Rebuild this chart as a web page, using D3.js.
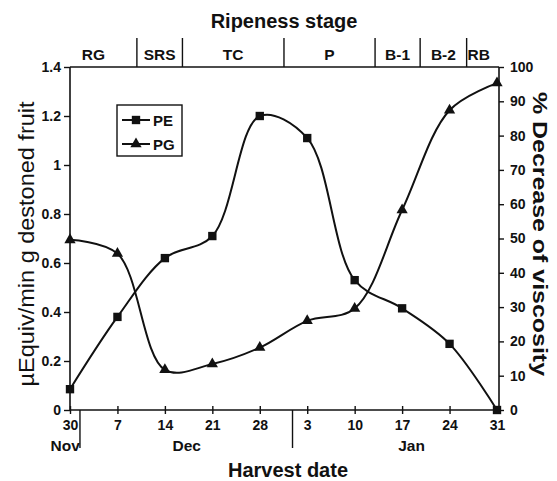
<!DOCTYPE html>
<html><head><meta charset="utf-8">
<script src="https://cdn.jsdelivr.net/npm/d3@7/dist/d3.min.js"></script>
<style>
body{margin:0;background:#fff;}
svg text{font-family:"Liberation Sans",Arial,sans-serif;fill:#111;}
</style></head>
<body><svg id="c" width="557" height="481"></svg>
<script>
// ---- data ----
const dateLabels = ["30","7","14","21","28","3","10","17","24","31"];
const monthLabels = ["Nov","Dec","Jan"];
const monthLabelPos = [-0.1, 2.46, 7.2];
const monthSeparators = [0.21, 4.69];
const peValues = [0.085, 0.38, 0.62, 0.71, 1.2, 1.11, 0.53, 0.415, 0.27, 0.0];
const pgValues = [49.6, 45.6, 11.7, 13.4, 18.2, 26.0, 29.6, 58.3, 87.4, 95.3];
const stageNames = ["RG","SRS","TC","P","B-1","B-2","RB"];
const stageBounds = [0, 1.41, 2.37, 4.51, 6.43, 7.38, 8.36, 9];
const leftTicks = [0,0.2,0.4,0.6,0.8,1,1.2,1.4];
const rightTicks = [0,10,20,30,40,50,60,70,80,90,100];

const svg = d3.select("#c");
const L = 70, R = 499, T = 67, B = 410;
const x = d3.scaleLinear().domain([0,9]).range([L, R - 2]);
const yL = d3.scaleLinear().domain([0,1.4]).range([B, T]);
const yR = d3.scaleLinear().domain([0,100]).range([B, T]);

const g = svg.append("g");
g.append("line").attr("x1",L).attr("x2",L).attr("y1",T).attr("y2",B).attr("stroke","#111").attr("stroke-width",1.6);
g.append("line").attr("x1",R).attr("x2",R).attr("y1",T).attr("y2",B).attr("stroke","#111").attr("stroke-width",1.6);
g.append("line").attr("x1",L).attr("x2",R).attr("y1",B).attr("y2",B).attr("stroke","#111").attr("stroke-width",1.6);
g.append("line").attr("x1",L).attr("x2",R).attr("y1",T).attr("y2",T).attr("stroke","#111").attr("stroke-width",1.6);

// left axis
const la = svg.append("g").attr("transform",`translate(${L},0)`)
  .call(d3.axisLeft(yL).tickValues(leftTicks).tickSize(6).tickPadding(3).tickFormat(d=>d3.format("")(+d.toFixed(1))));
la.select(".domain").remove();
la.selectAll("line").attr("stroke","#111").attr("stroke-width",1.4);
la.selectAll("text").attr("font-size",14).attr("font-weight","bold").attr("fill","#111");

// right axis
const ra = svg.append("g").attr("transform",`translate(${R},0)`)
  .call(d3.axisRight(yR).tickValues(rightTicks).tickSize(5).tickPadding(6));
ra.select(".domain").remove();
ra.selectAll("line").attr("stroke","#111").attr("stroke-width",1.4);
ra.selectAll("text").attr("font-size",14).attr("font-weight","bold").attr("fill","#111");

// bottom axis
const ba = svg.append("g").attr("transform",`translate(0,${B})`)
  .call(d3.axisBottom(x).tickValues(d3.range(dateLabels.length)).tickSize(4).tickPadding(6).tickFormat(i=>dateLabels[i]));
ba.select(".domain").remove();
ba.selectAll("line").attr("stroke","#111").attr("stroke-width",1.4).attr("y1",-4);
ba.selectAll("text").attr("font-size",14).attr("font-weight","bold").attr("fill","#111");

// month separators & labels
monthSeparators.forEach(m=>{
  g.append("line").attr("x1",x(m)).attr("x2",x(m)).attr("y1",B).attr("y2",B+38).attr("stroke","#111").attr("stroke-width",1.4);
});
monthLabels.forEach((m,i)=>{
  svg.append("text").attr("x",x(monthLabelPos[i])).attr("y",B+41).attr("text-anchor","middle")
    .attr("font-size",15.5).attr("font-weight","bold").text(m);
});

// stage band
stageBounds.slice(1,-1).forEach(s=>{
  g.append("line").attr("x1",x(s)).attr("x2",x(s)).attr("y1",38).attr("y2",T).attr("stroke","#111").attr("stroke-width",1.4);
});
stageNames.forEach((s,i)=>{
  svg.append("text").attr("x",(x(stageBounds[i])+x(stageBounds[i+1]))/2 + (i===0?-10:(i===6?-3:0))).attr("y",60)
    .attr("text-anchor","middle").attr("font-size",15.5).attr("font-weight","bold").text(s);
});

// titles
svg.append("text").attr("x",284).attr("y",28).attr("text-anchor","middle")
  .attr("font-size",20).attr("font-weight","bold").text("Ripeness stage");
svg.append("text").attr("x",288).attr("y",477).attr("text-anchor","middle")
  .attr("font-size",20).attr("font-weight","bold").text("Harvest date");
svg.append("text").attr("transform",`translate(34,244) rotate(-90)`).attr("text-anchor","middle")
  .attr("font-size",22).attr("textLength",285).attr("lengthAdjust","spacingAndGlyphs")
  .text("\u00B5Equiv/min g destoned fruit");
svg.append("text").attr("transform",`translate(533,234) rotate(90)`).attr("text-anchor","middle")
  .attr("font-size",21).attr("font-weight","bold").attr("textLength",284).attr("lengthAdjust","spacingAndGlyphs")
  .text("% Decrease of viscosity");

// lines
const curve = d3.curveCatmullRom.alpha(0.5);
const pe = peValues.map((v,i)=>[x(i), yL(v)]);
const pg = pgValues.map((v,i)=>[x(i), yR(v)]);
svg.append("path").attr("d", d3.line().curve(curve)(pe)).attr("fill","none").attr("stroke","#111").attr("stroke-width",2);
svg.append("path").attr("d", d3.line().curve(curve)(pg)).attr("fill","none").attr("stroke","#111").attr("stroke-width",2);
svg.selectAll(".sq").data(pe).enter().append("path")
  .attr("d", d3.symbol(d3.symbolSquare, 70)).attr("transform",d=>`translate(${d[0]},${d[1]})`).attr("fill","#111");
svg.selectAll(".tr").data(pg).enter().append("path")
  .attr("d", d3.symbol(d3.symbolTriangle, 55)).attr("transform",d=>`translate(${d[0]},${d[1]})`).attr("fill","#111");

// legend
const lg = svg.append("g");
lg.append("rect").attr("x",117).attr("y",105).attr("width",65).attr("height",51).attr("fill","#fff").attr("stroke","#111").attr("stroke-width",1.4);
[["PE",d3.symbolSquare,70,120],["PG",d3.symbolTriangle,55,144]].forEach(r=>{
  lg.append("line").attr("x1",122).attr("x2",150).attr("y1",r[3]).attr("y2",r[3]).attr("stroke","#111").attr("stroke-width",2);
  lg.append("path").attr("d",d3.symbol(r[1],r[2])).attr("transform",`translate(136,${r[3]})`).attr("fill","#111");
  lg.append("text").attr("x",153).attr("y",r[3]+5.5).attr("font-size",15).attr("font-weight","bold").text(r[0]);
});
</script></body></html>
